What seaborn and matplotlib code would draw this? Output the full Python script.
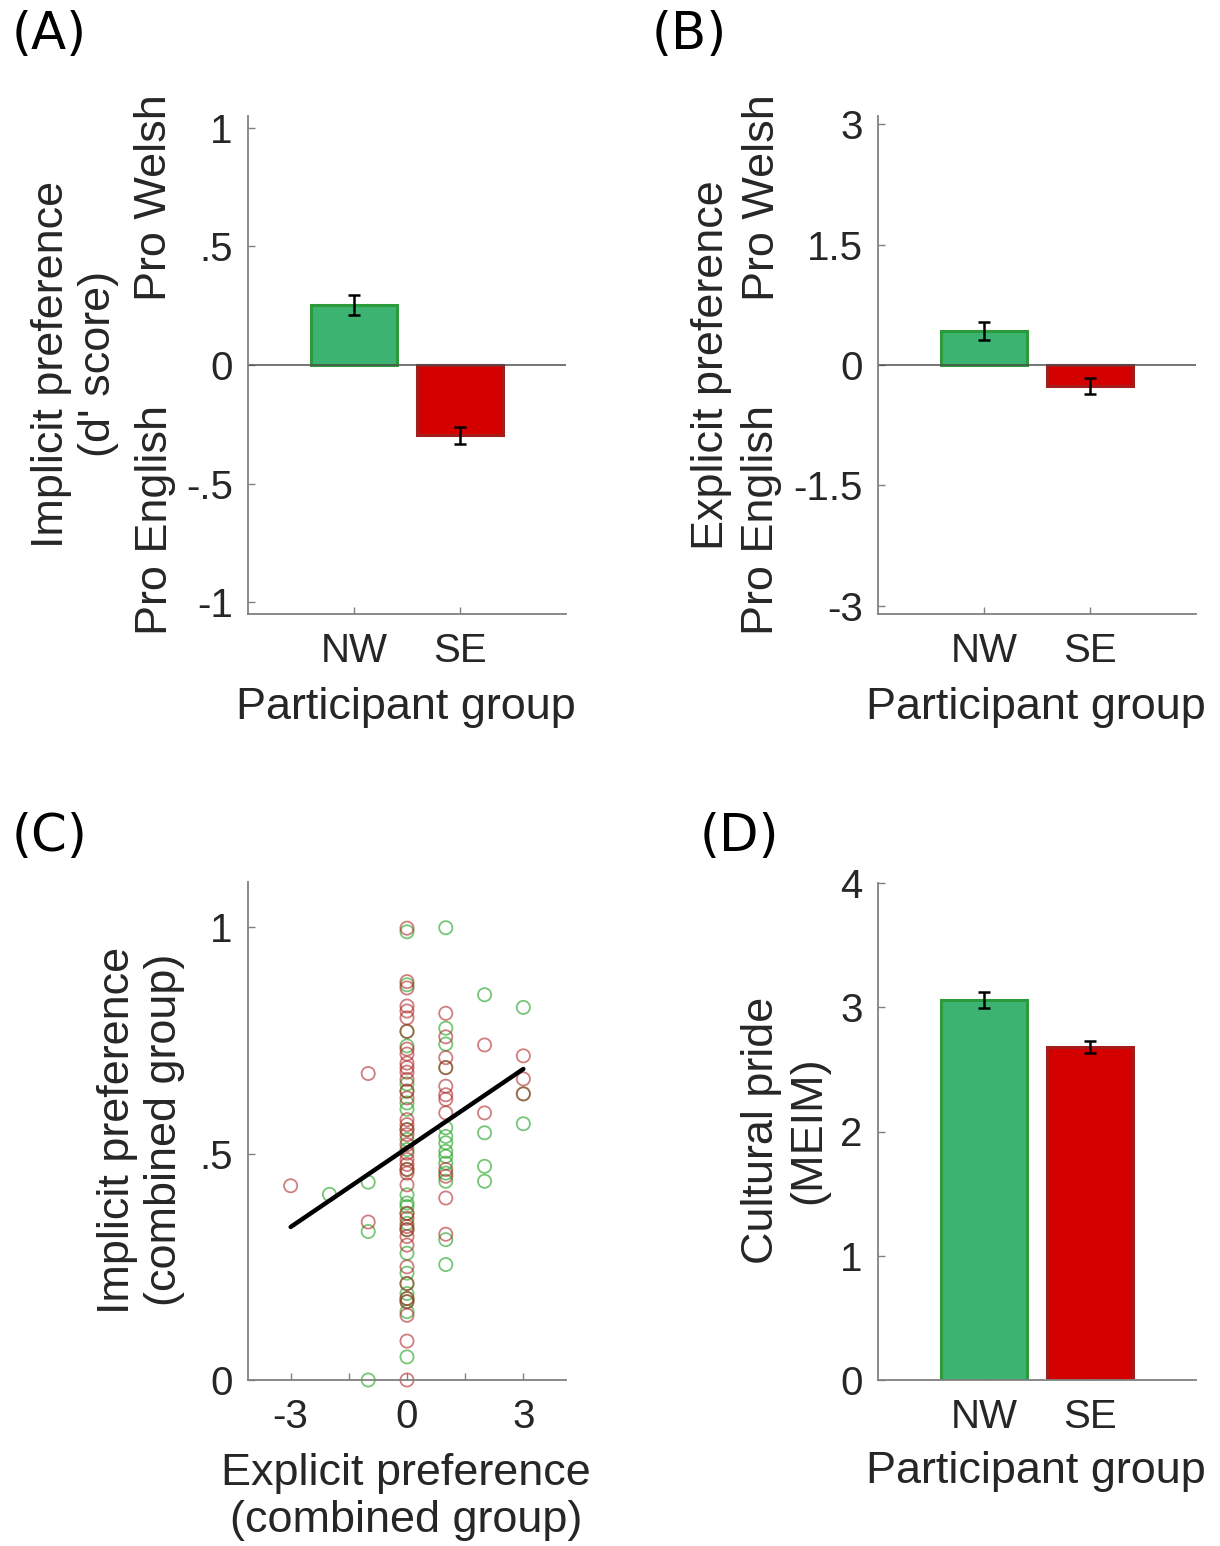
import numpy as np
import pandas as pd
import matplotlib
matplotlib.use('Agg')
import matplotlib.pyplot as plt
import seaborn as sns

# ---------------- data ----------------
groups = ['NW', 'SE']
implicit_mean = [0.252, -0.297]
implicit_sem = [0.042, 0.036]
explicit_mean = [0.42, -0.26]
explicit_sem = [0.11, 0.095]
pride_mean = [3.06, 2.68]
pride_sem = [0.065, 0.05]

implicit_ticks = [-1, -0.5, 0, 0.5, 1]
implicit_ticklabels = ['-1', '-.5', '0', '.5', '1']
explicit_ticks = [-3, -1.5, 0, 1.5, 3]
explicit_ticklabels = ['-3', '-1.5', '0', '1.5', '3']
pride_ticks = [0, 1, 2, 3, 4]
pride_ticklabels = ['0', '1', '2', '3', '4']
scatter_xticks = [-3, -1.5, 0, 1.5, 3]
scatter_xticklabels = ['-3', '', '0', '', '3']
scatter_yticks = [0, 0.5, 1]
scatter_yticklabels = ['0', '.5', '1']

# panel C: NW participants (green)
nw_explicit = [-2,
               -1, -1, -1,
               0, 0, 0, 0, 0, 0, 0, 0, 0, 0, 0, 0, 0,
               0, 0, 0, 0, 0, 0, 0, 0, 0, 0, 0, 0, 0,
               1, 1, 1, 1, 1, 1, 1, 1, 1, 1, 1, 1, 1, 1,
               2, 2, 2, 2,
               3, 3, 3]
nw_implicit = [0.41,
               0.437, 0.328, 0.0,
               0.99, 0.873, 0.77, 0.738, 0.654, 0.638, 0.612, 0.598, 0.553, 0.531,
               0.509, 0.465, 0.409, 0.391, 0.383, 0.368, 0.346, 0.332, 0.28, 0.236,
               0.213, 0.191, 0.18, 0.173, 0.151, 0.051,
               0.999, 0.777, 0.742, 0.69, 0.557, 0.538, 0.524, 0.505, 0.494, 0.479,
               0.457, 0.439, 0.31, 0.255,
               0.851, 0.546, 0.472, 0.439,
               0.823, 0.632, 0.566]
# panel C: SE participants (red)
se_explicit = [-3,
               -1, -1,
               0, 0, 0, 0, 0, 0, 0, 0, 0, 0, 0, 0, 0,
               0, 0, 0, 0, 0, 0, 0, 0, 0, 0, 0, 0, 0,
               0, 0, 0, 0, 0, 0, 0, 0, 0, 0, 0, 0, 0,
               1, 1, 1, 1, 1, 1, 1, 1, 1, 1, 1, 1,
               2, 2,
               3, 3, 3]
se_implicit = [0.429,
               0.677, 0.349,
               0.998, 0.88, 0.866, 0.826, 0.815, 0.80, 0.77, 0.731, 0.72, 0.70,
               0.69, 0.68, 0.664, 0.638, 0.623, 0.575, 0.564, 0.553, 0.542, 0.52,
               0.501, 0.487, 0.476, 0.465, 0.457, 0.431, 0.368, 0.357, 0.339, 0.332,
               0.317, 0.298, 0.25, 0.213, 0.18, 0.173, 0.143, 0.086, 0.0,
               0.81, 0.758, 0.712, 0.69, 0.649, 0.63, 0.62, 0.59, 0.465, 0.45, 0.402, 0.322,
               0.74, 0.59,
               0.716, 0.665, 0.632]
fit_x = [-3, 3]
fit_y = [0.338, 0.687]

# ---------------- style ----------------
sns.set_style('ticks')
plt.rcParams['font.family'] = ['Liberation Sans', 'DejaVu Sans']
TXT = '#262626'
AXC = '#808080'
TICK_FS = 29
LAB_FS = 32.4
bar_faces = ['#3CB371', '#D40000']
bar_edges = ['#2A9A3A', '#A41C1C']
sc_green = '#2FA82F'
sc_red = '#B02A2A'

W, H = 1220, 1546
fig = plt.figure(figsize=(W / 100, H / 100), dpi=100)


def add_axes_px(left, top, right, bottom):
    return fig.add_axes([left / W, 1 - bottom / H, (right - left) / W, (bottom - top) / H])


def style_axes(ax, xpad=13, ypad=11):
    for s in ['top', 'right']:
        ax.spines[s].set_visible(False)
    for s in ['left', 'bottom']:
        ax.spines[s].set_color(AXC)
        ax.spines[s].set_linewidth(1.3)
    ax.tick_params(direction='in', length=5, width=1, color=AXC,
                   labelsize=TICK_FS, labelcolor=TXT)
    ax.tick_params(axis='x', pad=xpad)
    ax.tick_params(axis='y', pad=ypad)


def ftext(px, py, s, rot=0, size=LAB_FS, **kw):
    fig.text(px / W, 1 - py / H, s, rotation=rot, fontsize=size, color=TXT,
             ha='center', va='center', multialignment='center', **kw)


def bar_panel(ax, means, sems, ylim, ticks, ticklabels):
    df = pd.DataFrame({'group': groups, 'value': means})
    sns.barplot(data=df, x='group', y='value', hue='group', palette=bar_faces,
                saturation=1, width=0.81, errorbar=None, legend=False, ax=ax,
                linewidth=2.2)
    for p, ec in zip(ax.patches, bar_edges):
        p.set_edgecolor(ec)
    ax.errorbar(x=[0, 1], y=means, yerr=sems, fmt='none', ecolor='black',
                elinewidth=1.8, capsize=4.5, capthick=1.8, zorder=5)
    ax.set_xlim(-1, 2)
    ax.set_ylim(*ylim)
    ax.set_yticks(ticks)
    ax.set_yticklabels(ticklabels)
    ax.set_xlabel('')
    ax.set_ylabel('')
    style_axes(ax)


# Panel A
axA = add_axes_px(248, 116, 566, 614)
bar_panel(axA, implicit_mean, implicit_sem, (-1.05, 1.05), implicit_ticks, implicit_ticklabels)
axA.axhline(0, color='#505050', lw=1.1, zorder=1)

# Panel B
axB = add_axes_px(878, 116, 1196, 614)
bar_panel(axB, explicit_mean, explicit_sem, (-3.1, 3.1), explicit_ticks, explicit_ticklabels)
axB.axhline(0, color='#505050', lw=1.1, zorder=1)

# Panel D
axD = add_axes_px(878, 883, 1196, 1380)
bar_panel(axD, pride_mean, pride_sem, (0, 4), pride_ticks, pride_ticklabels)

# Panel C
axC = add_axes_px(248, 882, 566, 1380)
sns.scatterplot(x=nw_explicit, y=nw_implicit, ax=axC, marker='o', s=90,
                linewidth=1.3, alpha=0.65)
c = axC.collections[-1]
c.set_facecolor('none'); c.set_edgecolor(sc_green); c.set_clip_on(False)
sns.scatterplot(x=se_explicit, y=se_implicit, ax=axC, marker='o', s=90,
                linewidth=1.3, alpha=0.6)
c = axC.collections[-1]
c.set_facecolor('none'); c.set_edgecolor(sc_red); c.set_clip_on(False)
sns.lineplot(x=fit_x, y=fit_y, ax=axC, color='black', linewidth=3.2)
axC.set_xlim(-4.1, 4.1)
axC.set_ylim(0, 1.1)
axC.set_xticks(scatter_xticks)
axC.set_xticklabels(scatter_xticklabels)
axC.set_yticks(scatter_yticks)
axC.set_yticklabels(scatter_yticklabels)
style_axes(axC)

# ---------------- labels ----------------
ls = 1.2
# A
ftext(75, 364, "Implicit preference\n(d' score)", rot=90, linespacing=ls)
ftext(155, 198, 'Pro Welsh', rot=90)
ftext(155, 520, 'Pro English', rot=90)
ftext(406, 707, 'Participant group')
# B
ftext(712, 365, 'Explicit preference', rot=90)
ftext(762, 198, 'Pro Welsh', rot=90)
ftext(762, 520, 'Pro English', rot=90)
ftext(1036, 707, 'Participant group')
# C
ftext(141, 1130, 'Implicit preference\n(combined group)', rot=90, linespacing=ls)
ftext(406, 1497, 'Explicit preference\n(combined group)', linespacing=ls)
# D
ftext(785, 1130, 'Cultural pride\n(MEIM)', rot=90, linespacing=ls)
ftext(1036, 1472, 'Participant group')

# panel letters
for s, px, py in [('(A)', 12, 35), ('(B)', 652, 35), ('(C)', 12, 837), ('(D)', 700, 837)]:
    fig.text(px / W, 1 - py / H, s, fontsize=37, color='black', ha='left', va='center',
             family='DejaVu Sans')

fig.savefig('out.png', dpi=100)
